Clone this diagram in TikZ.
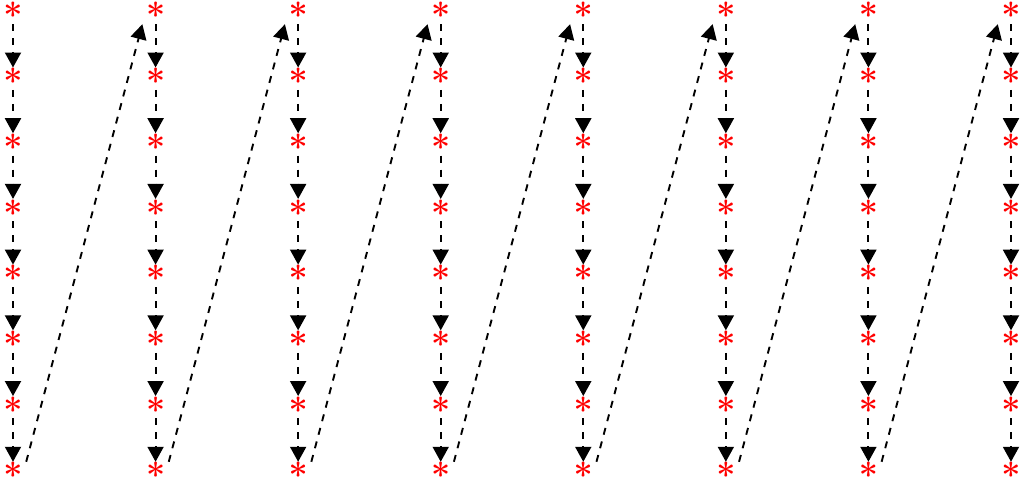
\documentclass[tikz,border=0pt]{standalone}
\usetikzlibrary{arrows.meta}
\begin{document}
\begin{tikzpicture}[x=1pt,y=-1pt,
  star/.style={rectangle,inner sep=0pt,minimum width=26pt,minimum height=22pt,text=red,font=\fontsize{34}{34}\selectfont\bfseries},
  link/.style={dashed,dash pattern=on 7pt off 7pt,line width=1.9pt,-{Triangle[length=15pt,width=16pt]}}]
\useasboundingbox (0,0) rectangle (1020,484);
\foreach \i in {1,...,8}{
  \foreach \j in {1,...,8}{
    \node[star] (n-\i-\j) at ({13+(\i-1)*142.57},{13+(\j-1)*65.71}) {\raisebox{-0.44em}[0pt][0pt]{*}};
  }
}
\foreach \i in {1,...,8}{
  \foreach \j [evaluate=\j as \k using int(\j+1)] in {1,...,7}{
    \draw[link] (n-\i-\j.south) -- (n-\i-\k.north);
  }
}
\foreach \i [evaluate=\i as \k using int(\i+1)] in {1,...,7}{
  \draw[link] (n-\i-8.north east) -- (n-\k-1.south west);
}
\end{tikzpicture}
\end{document}
